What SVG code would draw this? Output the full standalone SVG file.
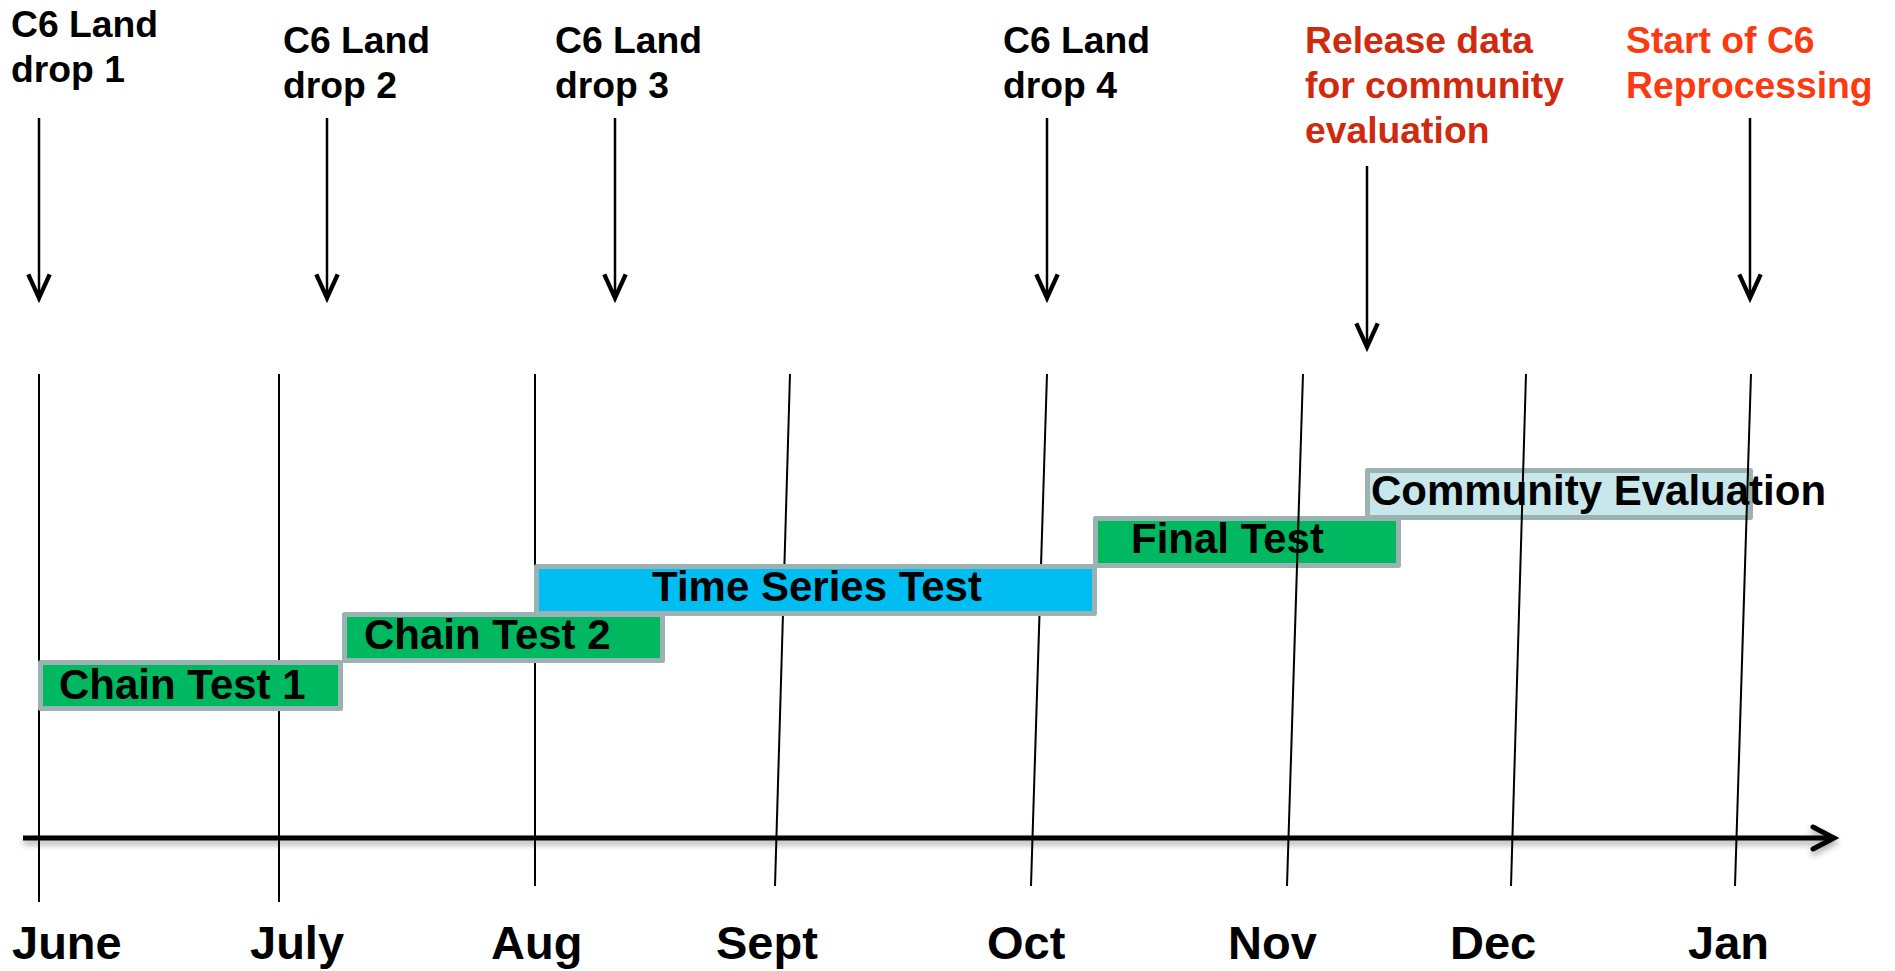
<svg xmlns="http://www.w3.org/2000/svg" width="1895" height="971" viewBox="0 0 1895 971">
<style>
  .hdr { font-family: "Liberation Sans", Arial, sans-serif; font-weight: bold; font-size: 37.3px; fill: #000; }
  .red1 { fill: #D02A0E; }
  .red2 { fill: #FC3A12; }
  .month { font-family: "Liberation Sans", Arial, sans-serif; font-weight: bold; font-size: 47px; fill: #000; }
  .lbl { font-family: "Liberation Sans", Arial, sans-serif; font-weight: bold; font-size: 42px; fill: #000; }
  .grid { stroke: #000; stroke-width: 2; fill: none; }
  .drop { stroke: #000; stroke-width: 2.5; fill: none; marker-end: url(#chev); }
  .bar { stroke: #9BB2B2; stroke-width: 5; stroke-linejoin: round; }
  .green { fill: #00B860; }
  .blue { fill: #00BEF2; }
  .pale { fill: #C7E7EA; }
</style>
<defs>
  <marker id="chev" markerUnits="userSpaceOnUse" markerWidth="30" markerHeight="30" viewBox="-25 -13 28 26" refX="0" refY="0" orient="auto" overflow="visible">
    <path d="M-22,-10 L0,0 L-22,10" fill="none" stroke="#000" stroke-width="4" stroke-linejoin="miter"/>
  </marker>
  <filter id="shadow" x="-5%" y="-200%" width="110%" height="600%">
    <feDropShadow dx="0" dy="4" stdDeviation="3" flood-color="#000" flood-opacity="0.35"/>
  </filter>
</defs>
<rect width="1895" height="971" fill="#fff"/>

<g id="gridlines-back">
  <line class="grid" x1="39" y1="374" x2="39" y2="902"/>
  <line class="grid" x1="279" y1="374" x2="279" y2="902"/>
  <line class="grid" x1="535" y1="374" x2="535" y2="886"/>
  <line class="grid" x1="790" y1="374" x2="775" y2="886"/>
  <line class="grid" x1="1047" y1="374" x2="1031" y2="886"/>
</g>

<g id="node-chain-test-1">
  <rect class="bar green" x="40.5" y="662.5" width="300" height="46"/>
  <text class="lbl" x="59" y="699">Chain Test 1</text>
</g>
<g id="node-chain-test-2">
  <rect class="bar green" x="344.5" y="614.5" width="318" height="46"/>
  <text class="lbl" x="364" y="649">Chain Test 2</text>
</g>
<g id="node-time-series-test">
  <rect class="bar blue" x="536.5" y="566.5" width="558" height="47"/>
  <text class="lbl" x="817" y="601" text-anchor="middle">Time Series Test</text>
</g>
<g id="node-final-test">
  <rect class="bar green" x="1095.5" y="518.5" width="303" height="47"/>
  <text class="lbl" x="1131" y="553">Final Test</text>
</g>
<g id="node-community-evaluation">
  <rect class="bar pale" x="1367.5" y="470.5" width="383" height="47"/>
  <text class="lbl" x="1371" y="505">Community Evaluation</text>
</g>

<g id="gridlines-front">
  <line class="grid" x1="1303" y1="374" x2="1287" y2="886"/>
  <line class="grid" x1="1526" y1="374" x2="1511" y2="886"/>
  <line class="grid" x1="1751" y1="374" x2="1735" y2="886"/>
</g>

<g id="connectors">
  <line class="drop" x1="39" y1="118" x2="39" y2="298"/>
  <line class="drop" x1="327" y1="118" x2="327" y2="298"/>
  <line class="drop" x1="615" y1="118" x2="615" y2="298"/>
  <line class="drop" x1="1047" y1="118" x2="1047" y2="298"/>
  <line class="drop" x1="1367" y1="166" x2="1367" y2="347"/>
  <line class="drop" x1="1750" y1="118" x2="1750" y2="298"/>
</g>

<g id="axis" filter="url(#shadow)">
  <line x1="23" y1="838" x2="1832" y2="838" stroke="#000" stroke-width="5"/>
  <path d="M1813,827 L1834,838 L1813,849" fill="none" stroke="#000" stroke-width="5" stroke-linecap="round" stroke-linejoin="miter"/>
</g>

<g id="node-drop-1">
  <text class="hdr" x="11" y="37">C6 Land</text>
  <text class="hdr" x="11" y="82">drop 1</text>
</g>
<g id="node-drop-2">
  <text class="hdr" x="283" y="53">C6 Land</text>
  <text class="hdr" x="283" y="98">drop 2</text>
</g>
<g id="node-drop-3">
  <text class="hdr" x="555" y="53">C6 Land</text>
  <text class="hdr" x="555" y="98">drop 3</text>
</g>
<g id="node-drop-4">
  <text class="hdr" x="1003" y="53">C6 Land</text>
  <text class="hdr" x="1003" y="98">drop 4</text>
</g>
<g id="node-release">
  <text class="hdr red1" x="1305" y="53">Release data</text>
  <text class="hdr red1" x="1305" y="98">for community</text>
  <text class="hdr red1" x="1305" y="143">evaluation</text>
</g>
<g id="node-start-reprocessing">
  <text class="hdr red2" x="1626" y="53">Start of C6</text>
  <text class="hdr red2" x="1626" y="98">Reprocessing</text>
</g>

<g id="months">
  <text class="month" x="12" y="959">June</text>
  <text class="month" x="250" y="959">July</text>
  <text class="month" x="491" y="959">Aug</text>
  <text class="month" x="716" y="959">Sept</text>
  <text class="month" x="987" y="959">Oct</text>
  <text class="month" x="1228" y="959">Nov</text>
  <text class="month" x="1450" y="959">Dec</text>
  <text class="month" x="1688" y="959">Jan</text>
</g>
</svg>
